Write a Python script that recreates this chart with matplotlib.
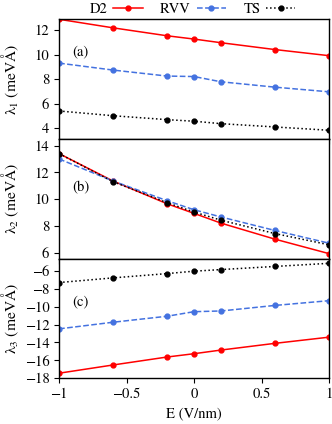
import matplotlib
matplotlib.use("Agg")
import matplotlib.pyplot as plt

plt.rcParams['font.family'] = ['STIXGeneral', 'DejaVu Serif']
plt.rcParams['mathtext.fontset'] = 'stix'
plt.rcParams['font.size'] = 10.5

# field values (V/nm)
E = [-1, -0.6, -0.2, 0, 0.2, 0.6, 1]

# lambda_1
l1_d2 = [12.9, 12.2, 11.55, 11.28, 10.98, 10.42, 9.92]
l1_rvv = [9.31, 8.74, 8.25, 8.21, 7.78, 7.34, 6.96]
l1_ts = [5.39, 5.0, 4.68, 4.55, 4.35, 4.08, 3.81]

# lambda_2
l2_d2 = [13.4, 11.35, 9.65, 8.93, 8.2, 7.0, 5.92]
l2_rvv = [13.0, 11.35, 9.88, 9.2, 8.66, 7.65, 6.7]
l2_ts = [13.4, 11.3, 9.73, 9.03, 8.42, 7.42, 6.58]

# lambda_3
l3_d2 = [-17.44, -16.52, -15.63, -15.26, -14.85, -14.1, -13.41]
l3_rvv = [-12.48, -11.74, -11.07, -10.56, -10.48, -9.86, -9.33]
l3_ts = [-7.3, -6.78, -6.3, -6.03, -5.85, -5.5, -5.15]

labels = ['D2', 'RVV', 'TS']
colors = ['#ff0000', '#4472e0', 'black']
styles = ['-', '--', ':']

panels = [
    ([l1_d2, l1_rvv, l1_ts], 'λ$_1$ (meVÅ)', (3.1, 12.9), [4, 6, 8, 10, 12], '(a)', 0.73),
    ([l2_d2, l2_rvv, l2_ts], 'λ$_2$ (meVÅ)', (5.55, 14.5), [6, 8, 10, 12, 14], '(b)', 0.59),
    ([l3_d2, l3_rvv, l3_ts], 'λ$_3$ (meVÅ)', (-18, -4.62), [-18, -16, -14, -12, -10, -8, -6], '(c)', 0.64),
]

fig, axes = plt.subplots(3, 1, figsize=(3.32, 4.24), dpi=100, sharex=True)
fig.subplots_adjust(left=0.178, right=0.991, top=0.9545, bottom=0.108, hspace=0)

for ax, (series, ylab, ylim, yt, tag, ty) in zip(axes, panels):
    for vals, c, ls, lab in zip(series, colors, styles, labels):
        ax.plot(E, vals, color=c, ls=ls, lw=1.1, marker='o', ms=3.5, label=lab)
    ax.set_ylim(*ylim)
    ax.set_yticks(yt)
    ax.set_ylabel(ylab, fontsize=11.2)
    ax.yaxis.set_label_coords(-0.142, 0.5)
    ax.text(0.05, ty, tag, transform=ax.transAxes, va='center')
    ax.tick_params(direction='out', length=3.5, top=False, right=False)
    for s in ax.spines.values():
        s.set_linewidth(1.0)

axes[-1].set_xlim(-1, 1)
axes[-1].set_xticks([-1, -0.5, 0, 0.5, 1])
axes[-1].set_xticklabels(['\u22121', '\u22120.5', '0', '0.5', '1'])
axes[-1].set_xlabel('E (V/nm)')

handles, labs = axes[0].get_legend_handles_labels()
fig.legend(handles, labs, loc='center', bbox_to_anchor=(0.58, 0.978), ncol=3,
           frameon=False, markerfirst=False, handlelength=2.0, columnspacing=1.2,
           handletextpad=0.4, borderaxespad=0)

fig.savefig('out.png', dpi=100)
